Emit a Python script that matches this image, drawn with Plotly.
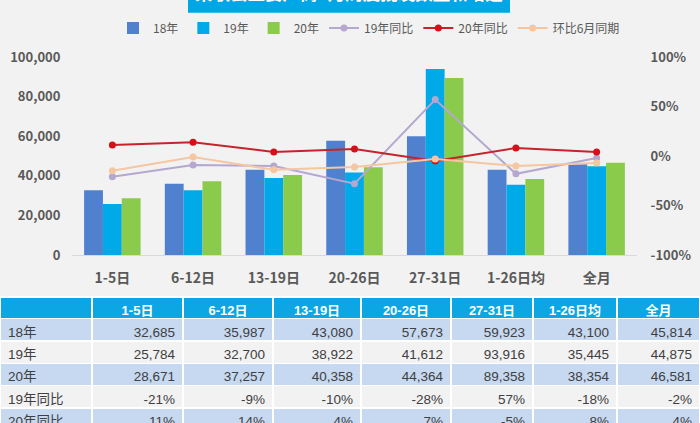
import plotly.graph_objects as go

categories = ['1-5日', '6-12日', '13-19日', '20-26日', '27-31日', '1-26日均', '全月']
sales_18 = [32685, 35987, 43080, 57673, 59923, 43100, 45814]
sales_19 = [25784, 32700, 38922, 41612, 93916, 35445, 44875]
sales_20 = [28671, 37257, 40358, 44364, 89358, 38354, 46581]
yoy_19 = [-21, -9, -10, -28, 57, -18, -2]
yoy_20 = [11, 14, 4, 7, -5, 8, 4]
mom_june = [-15, -1, -14, -11, -3, -10, -7]

left_ticks = [0, 20000, 40000, 60000, 80000, 100000]
right_ticks = [-100, -50, 0, 50, 100]

title_text = '乘联会主要厂商7月周度批发数量和增速'

background = '#F2F2F2'
grey_text = '#595959'
cjk_font = 'Noto Sans CJK SC'

W = 700
# figure is taller than the 423px window so the last table row gets cut like in the reference
H = 446

fig = go.Figure()

for name, values, color in [('18年', sales_18, '#4F81CE'),
                            ('19年', sales_19, '#00A9E8'),
                            ('20年', sales_20, '#8BCB4C')]:
  fig.add_trace(go.Bar(x=categories, y=values, name=name, marker_color=color, marker_line_width=0))

for name, values, color, mark in [('19年同比', yoy_19, '#B4A7D0', '#B4A7D0'),
                                  ('20年同比', yoy_20, '#C4242A', '#D60F18'),
                                  ('环比6月同期', mom_june, '#F5C6A0', '#F5C6A0')]:
  fig.add_trace(go.Scatter(x=categories, y=values, name=name, yaxis='y2', mode='lines+markers',
                           line=dict(color=color, width=2), marker=dict(color=mark, size=7)))

rows = [
  ['18年'] + [f'{v:,}' for v in sales_18],
  ['19年'] + [f'{v:,}' for v in sales_19],
  ['20年'] + [f'{v:,}' for v in sales_20],
  ['19年同比'] + [f'{v}%' for v in yoy_19],
  ['20年同比'] + [f'{v}%' for v in yoy_20],
]
columns = [list(c) for c in zip(*rows)]
row_fills = ['#C6D9F1', background, '#C6D9F1', background, '#C6D9F1']

fig.add_trace(go.Table(
  domain=dict(x=[0, 1], y=[0, 1 - 297 / H]),
  columnwidth=[92, 91, 90, 88, 90, 82, 84, 83],
  header=dict(values=[''] + categories, height=21.5, fill_color='#0CA6E4',
              line=dict(color='white', width=1.5), align='center',
              font=dict(family='Liberation Sans, ' + cjk_font, size=13, color='white', weight='bold')),
  cells=dict(values=columns, height=22.4, fill_color=[row_fills] * 8,
             line=dict(color='white', width=1.5), align=['left'] + ['right'] * 7,
             font=dict(family='Liberation Sans, ' + cjk_font, size=13.5, color='#404040')),
))

fig.update_layout(
  width=W,
  height=H,
  margin=dict(l=0, r=0, t=0, b=0, autoexpand=False),
  paper_bgcolor=background,
  plot_bgcolor=background,
  barmode='group',
  bargap=0.3,
  bargroupgap=0,
  font=dict(family=cjk_font, color=grey_text),
  xaxis=dict(domain=[72 / W, 637 / W], anchor='y', showgrid=False, showline=True, linecolor='#D9D9D9',
             ticks='outside', ticklen=10, tickcolor='rgba(0,0,0,0)',
             tickfont=dict(size=14, color=grey_text, weight='bold')),
  yaxis=dict(domain=[1 - 255 / H, 1 - 57 / H], range=[0, 100000], tickvals=left_ticks, tickformat=',',
             showgrid=False, zeroline=False, ticks='outside', ticklen=8, tickcolor='rgba(0,0,0,0)',
             tickfont=dict(size=13, color=grey_text, weight='bold')),
  yaxis2=dict(overlaying='y', side='right', anchor='x', range=[-100, 100], tickvals=right_ticks,
              ticktext=[f'{v}%' for v in right_ticks],
              showgrid=False, zeroline=False, ticks='outside', ticklen=10, tickcolor='rgba(0,0,0,0)',
              tickfont=dict(size=13, color=grey_text, weight='bold')),
  legend=dict(orientation='h', x=369 / W, xanchor='center',
              y=1 - 28 / H, yanchor='middle', bgcolor='rgba(0,0,0,0)',
              font=dict(size=12, color=grey_text), itemwidth=30, traceorder='normal'),
  shapes=[dict(type='rect', xref='paper', yref='paper', x0=188 / W, x1=510 / W, y0=1 - 12.7 / H, y1=1,
               fillcolor='#00A6E6', line_width=0, layer='below')],
  annotations=[dict(text=title_text, xref='paper', yref='paper', x=349 / W, y=1, yshift=8, xanchor='center',
                    yanchor='middle', showarrow=False, font=dict(size=17.5, color='white', weight='bold'))],
)

# browser default body margin would shift the figure by 8px
fig.write_html("out.html", config=dict(displayModeBar=False),
               post_script="document.body.style.margin='0';document.body.style.overflow='hidden';")
